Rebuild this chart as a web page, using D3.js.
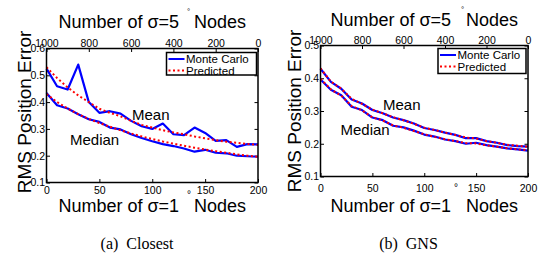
<!DOCTYPE html>
<html>
<head>
<meta charset="utf-8">
<script src="https://cdn.jsdelivr.net/npm/d3@7"></script>
<style>
  html, body { margin: 0; padding: 0; background: #fff; }
  svg { display: block; }
  text { fill: #000; }
</style>
</head>
<body>
<svg id="chart" width="538" height="255"></svg>
<script>
// ---- data ----
const nodes1 = [0,10,20,30,40,50,60,70,80,90,100,110,120,130,140,150,160,170,180,190,200];
const bottomTicks = [0,50,100,150,200];
const topTicks = [1000,800,600,400,200,0];
const yTicksClosest = [0.1,0.2,0.3,0.4,0.5,0.6];
const yTicksGNS = [0.1,0.2,0.3,0.4,0.5];
const legendLabels = ["Monte Carlo","Predicted"];

const closestMeanMC     = [0.525,0.459,0.447,0.540,0.400,0.360,0.366,0.357,0.330,0.310,0.300,0.320,0.280,0.277,0.305,0.285,0.255,0.258,0.233,0.243,0.242];
const closestMeanPred   = [0.530,0.490,0.455,0.425,0.400,0.375,0.360,0.347,0.330,0.315,0.305,0.295,0.287,0.280,0.272,0.265,0.258,0.252,0.248,0.244,0.240];
const closestMedianMC   = [0.434,0.388,0.376,0.355,0.336,0.326,0.305,0.298,0.280,0.266,0.254,0.243,0.236,0.227,0.215,0.222,0.211,0.209,0.200,0.198,0.196];
const closestMedianPred = [0.430,0.400,0.376,0.355,0.337,0.322,0.308,0.295,0.283,0.272,0.262,0.253,0.245,0.237,0.230,0.223,0.217,0.211,0.205,0.200,0.196];

const gnsMeanMC     = [0.429,0.389,0.368,0.335,0.323,0.303,0.293,0.280,0.272,0.262,0.248,0.242,0.234,0.227,0.217,0.217,0.208,0.203,0.196,0.193,0.191];
const gnsMeanPred   = [0.430,0.390,0.368,0.337,0.322,0.304,0.293,0.281,0.272,0.261,0.249,0.242,0.234,0.227,0.219,0.216,0.208,0.203,0.197,0.194,0.191];
const gnsMedianMC   = [0.396,0.365,0.348,0.313,0.303,0.280,0.272,0.255,0.250,0.240,0.228,0.222,0.213,0.208,0.200,0.203,0.196,0.191,0.186,0.183,0.179];
const gnsMedianPred = [0.398,0.366,0.347,0.315,0.302,0.281,0.271,0.256,0.249,0.239,0.229,0.221,0.214,0.208,0.202,0.201,0.195,0.191,0.186,0.183,0.180];

const svg = d3.select("#chart");
const BLUE = "#0000ff", RED = "#ff0000";
const SANS = "'Liberation Sans', Arial, sans-serif";
const SERIF = "'Liberation Serif', 'Times New Roman', serif";

function txt(g, x, y, size, s, anchor) {
  return g.append("text").attr("x", x).attr("y", y)
    .attr("text-anchor", anchor || "start")
    .style("font-family", SANS).style("font-size", size + "px").style("white-space", "pre")
    .text(s);
}

function panel(cfg) {
  const g = svg.append("g");
  const x = d3.scaleLinear().domain([0,200]).range([cfg.x0, cfg.x1]);
  const xTop = d3.scaleLinear().domain([1000,0]).range([cfg.x0, cfg.x1]);
  const y = d3.scaleLinear().domain(cfg.yDomain).range([cfg.y1, cfg.y0]);

  // axes
  const fmtY = d3.format(".1f");
  const ax = g.append("g").attr("transform", `translate(0,${cfg.y1})`)
    .call(d3.axisBottom(x).tickValues(bottomTicks).tickSize(-3.5).tickPadding(cfg.bPad).tickFormat(d3.format("d")));
  const at = g.append("g").attr("transform", `translate(0,${cfg.y0})`)
    .call(d3.axisTop(xTop).tickValues(topTicks).tickSize(-3.5).tickPadding(cfg.tPad).tickFormat(d3.format("d")));
  const al = g.append("g").attr("transform", `translate(${cfg.x0},0)`)
    .call(d3.axisLeft(y).tickValues(cfg.yTicks).tickSize(-3.5).tickPadding(1.5).tickFormat(fmtY));
  const ar = g.append("g").attr("transform", `translate(${cfg.x1},0)`)
    .call(d3.axisRight(y).tickValues(cfg.yTicks).tickSize(-3.5).tickFormat(""));
  [ax, at, al, ar].forEach(a => {
    a.select(".domain").remove();
    a.selectAll(".tick line").attr("stroke", "#000").attr("stroke-width", 1);
    a.selectAll(".tick text").style("font-size", "10.5px").style("font-family", SANS).attr("fill", "#000");
  });

  // lines
  const line = d3.line().x((d,i) => x(nodes1[i])).y(d => y(d));
  const series = [
    [cfg.meanMC, cfg.meanPred],
    [cfg.medMC, cfg.medPred]
  ];
  series.forEach(([mc, pr]) => {
    g.append("path").datum(mc).attr("d", line).attr("fill", "none")
      .attr("stroke", BLUE).attr("stroke-width", 2.2).attr("stroke-linejoin", "round");
    g.append("path").datum(pr).attr("d", line).attr("fill", "none")
      .attr("stroke", RED).attr("stroke-width", 2).attr("stroke-dasharray", "2,2.5");
  });

  // box
  g.append("rect").attr("x", cfg.x0).attr("y", cfg.y0)
    .attr("width", cfg.x1 - cfg.x0).attr("height", cfg.y1 - cfg.y0)
    .attr("fill", "none").attr("stroke", "#000").attr("stroke-width", 1.5);

  // Mean / Median labels
  txt(g, cfg.meanLbl[0], cfg.meanLbl[1], 15, "Mean");
  txt(g, cfg.medLbl[0], cfg.medLbl[1], 15, "Median");

  // legend
  const L = cfg.legend;
  g.append("rect").attr("x", L.x).attr("y", L.y).attr("width", L.w).attr("height", L.h)
    .attr("fill", "#fff").attr("stroke", "#000").attr("stroke-width", 1.5);
  legendLabels.forEach((lab, i) => {
    const yy = L.y + 6.5 + i * 11.5;
    const ln = g.append("line").attr("x1", L.x + 2).attr("x2", L.x + 18).attr("y1", yy).attr("y2", yy)
      .attr("stroke-width", 2);
    if (i === 0) ln.attr("stroke", BLUE);
    else ln.attr("stroke", RED).attr("stroke-dasharray", "2,2.5");
    txt(g, L.x + 19.5, yy + 4.2, 11.5, lab);
  });

  // axis labels
  const cx = (cfg.x0 + cfg.x1) / 2;
  txt(g, cx, cfg.titleY, 18, "Number of σ=5   Nodes", "middle");
  txt(g, cfg.degTopX, cfg.degTopY, 8, "°");
  txt(g, cx, cfg.xlabY, 18, "Number of σ=1   Nodes", "middle");
  txt(g, cfg.degBotX, cfg.degBotY, 10, "°");
  txt(g, 0, 0, 19, "RMS Position Error", "middle")
    .attr("transform", `translate(${cfg.ylabX},${cfg.ylabY}) rotate(-90)`);

  // caption
  g.append("text").attr("x", cfg.capX).attr("y", 249).attr("text-anchor", "middle")
    .style("font-family", SERIF).style("font-size", "16px").style("white-space", "pre")
    .text(cfg.caption);
}

panel({
  x0: 46.5, x1: 258, y0: 48.5, y1: 182.5, yDomain: [0.1, 0.6], yTicks: yTicksClosest,
  bPad: 4, tPad: 1.5,
  meanMC: closestMeanMC, meanPred: closestMeanPred, medMC: closestMedianMC, medPred: closestMedianPred,
  meanLbl: [132, 120], medLbl: [70, 145],
  legend: { x: 166.5, y: 52.5, w: 90, h: 22.5 },
  titleY: 28, xlabY: 211.5, degTopX: 187, degTopY: 14, degBotX: 187, degBotY: 197.5,
  ylabX: 31, ylabY: 112,
  capX: 137, caption: "(a)  Closest"
});

panel({
  x0: 320.5, x1: 528, y0: 45.5, y1: 176.5, yDomain: [0.1, 0.5], yTicks: yTicksGNS,
  bPad: 8, tPad: 1.5,
  meanMC: gnsMeanMC, meanPred: gnsMeanPred, medMC: gnsMedianMC, medPred: gnsMedianPred,
  meanLbl: [383, 110], medLbl: [340.5, 135],
  legend: { x: 438, y: 48.5, w: 88, h: 25 },
  titleY: 26, xlabY: 211.5, degTopX: 461, degTopY: 12, degBotX: 454, degBotY: 191,
  ylabX: 301, ylabY: 111,
  capX: 408.5, caption: "(b)  GNS"
});
</script>
</body>
</html>
